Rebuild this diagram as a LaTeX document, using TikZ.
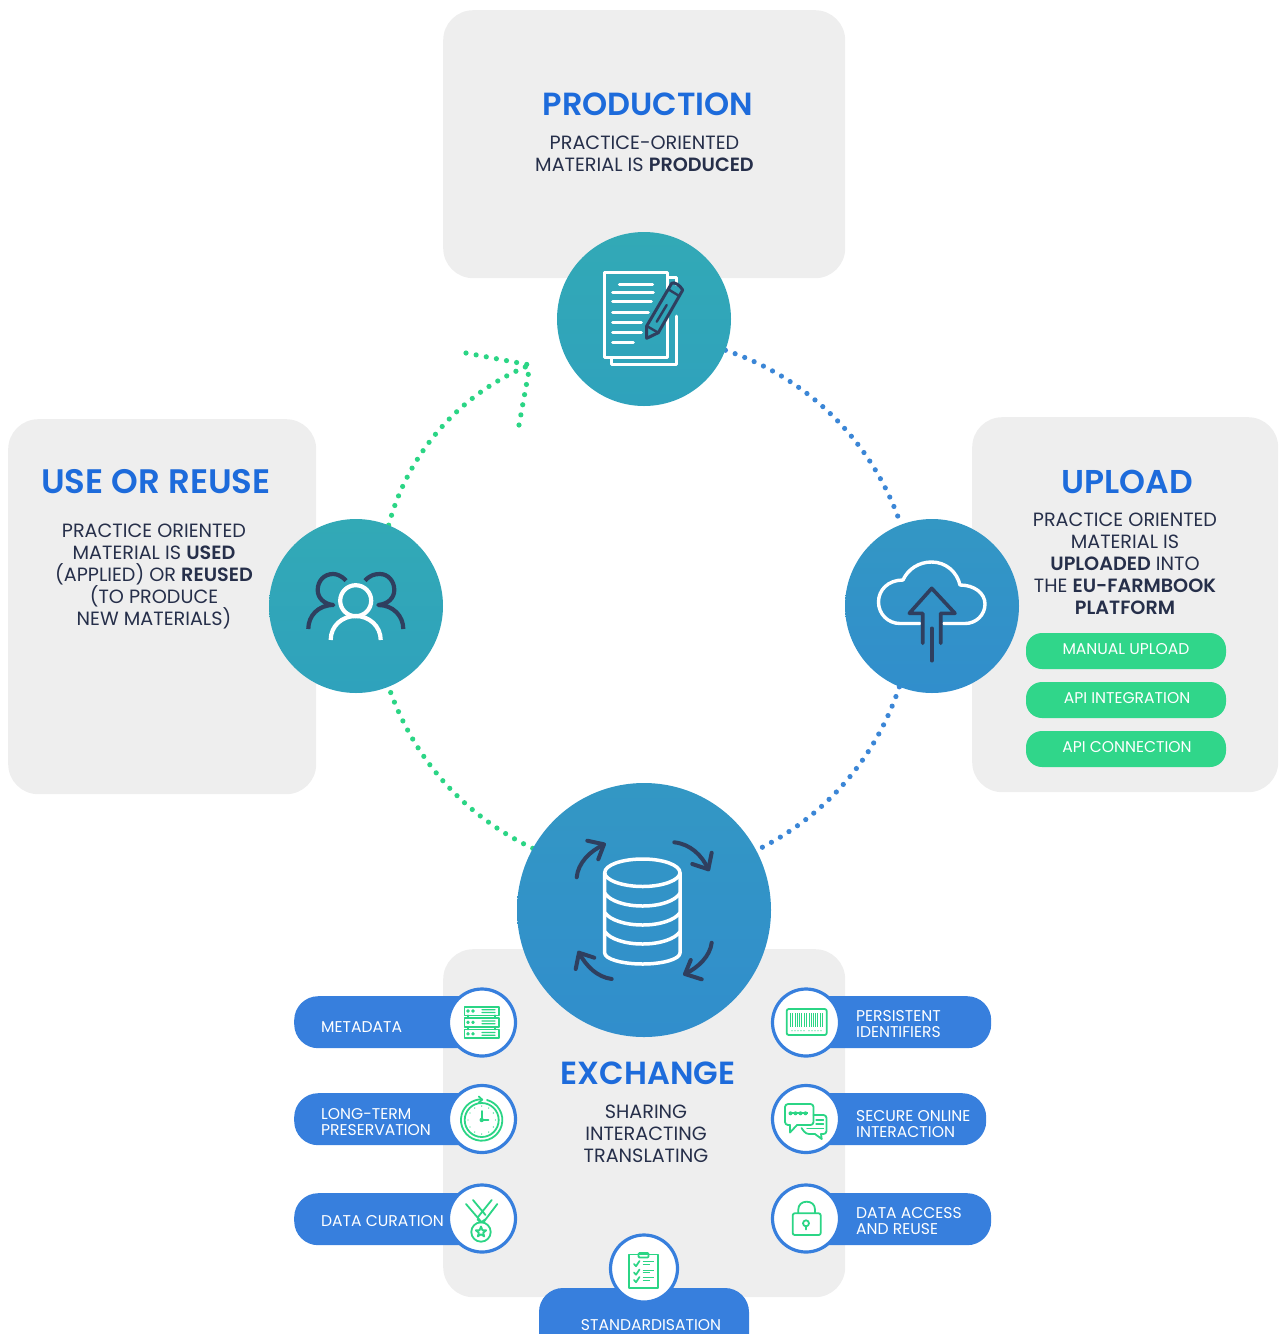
\documentclass[tikz,border=0pt]{standalone}
\usepackage{fontspec}
\setmainfont{Poppins}[BoldFont={Poppins SemiBold}]
\usetikzlibrary{backgrounds}
\definecolor{panelgrey}{HTML}{EEEEEE}
\definecolor{headblue}{HTML}{1D6BDB}
\definecolor{inkdark}{HTML}{262F4A}
\definecolor{icondark}{HTML}{2F3F5F}
\definecolor{pillgreen}{HTML}{30D68A}
\definecolor{pillblue}{HTML}{377FDD}
\definecolor{dotblue}{HTML}{3B86D6}
\definecolor{icongreen}{HTML}{2BD585}
\definecolor{tealA}{HTML}{32A9B6}
\definecolor{tealB}{HTML}{2FA2BC}
\definecolor{azureA}{HTML}{3397C4}
\definecolor{azureB}{HTML}{318ECC}
\tikzset{
  panel/.style={fill=panelgrey,rounded corners=30pt,inner sep=0pt,anchor=north west},
  hubteal/.style={circle,inner sep=0pt,minimum size=174pt,top color=tealA,bottom color=tealB},
  hubazure/.style={circle,inner sep=0pt,minimum size=174pt,top color=azureA,bottom color=azureB},
  heading/.style={text=headblue,font=\fontsize{32}{36}\selectfont\bfseries,inner sep=0pt},
  bodytext/.style={text=inkdark,font=\fontsize{19.2}{22}\selectfont,align=center,inner sep=0pt},
  greenpill/.style={fill=pillgreen,rounded corners=16pt,minimum width=200pt,minimum height=36pt,inner sep=0pt},
  greentext/.style={text=white,font=\fontsize{15.6}{16}\selectfont,inner sep=0pt},
  bluepill/.style={fill=pillblue,rounded corners=24pt,minimum height=52pt,inner sep=0pt,anchor=north west},
  pilltext/.style={text=white,font=\fontsize{15.6}{16}\selectfont,align=left,anchor=west,inner sep=0pt},
  badge/.style={circle,fill=white,draw=pillblue,line width=3.2pt,minimum size=67pt,inner sep=0pt},
  dotsgreen/.style={draw=icongreen,line width=5.2pt,line cap=round,dash pattern=on 0pt off 10.3pt},
  dotsblue/.style={draw=dotblue,line width=5.2pt,line cap=round,dash pattern=on 0pt off 10.3pt},
  iconw/.style={draw=white,line width=3pt,line cap=round,line join=round},
  icond/.style={draw=icondark,line width=3.6pt,line cap=round,line join=round},
  icong/.style={draw=icongreen,line width=1.8pt,line cap=round,line join=round},
}
\begin{document}
\begin{tikzpicture}[x=1pt,y=-1pt]
\useasboundingbox (0,0) rectangle (1278,1334);
% hubs
\node[hubteal] (prod) at (644,319) {};
\node[hubteal] (use) at (356,606) {};
\node[hubazure] (upl) at (932,606) {};
\node[hubazure,minimum size=254pt] (exch) at (644,910) {};
\coordinate (tip) at (530,365);
\coordinate (headA) at (466,353);
\coordinate (headB) at (519,425);
\begin{scope}[on background layer]
  \node[panel,minimum width=402pt,minimum height=268pt] (pprod) at (443,10) {};
  \node[panel,minimum width=308pt,minimum height=375pt] (puse) at (8,419) {};
  \node[panel,minimum width=306pt,minimum height=375pt] (pupl) at (972,417) {};
  \node[panel,minimum width=402pt,minimum height=348pt] (pexch) at (443,949) {};
  \draw[dotsblue] (prod.-21) to[bend left=26.5,looseness=.9] (upl.111);
  \draw[dotsblue] (upl.-112) to[bend left=22.7,looseness=.9] (exch.28);
  \draw[dotsgreen] (exch.151) to[bend left=22.7,looseness=.9] (use.-68);
  \draw[dotsgreen] (use.68) to[bend left=26.5,looseness=.9] (tip);
  \draw[dotsgreen] (headA) -- (tip);
  \draw[dotsgreen] (headB) -- (tip);
\end{scope}
% texts of the panels
\node[heading] (tprod) at (648,104) {PRODUCTION};
\node[bodytext] (bprod) at (644.5,154) {PRACTICE-ORIENTED\\MATERIAL IS \textbf{PRODUCED}};
\node[heading,font=\fontsize{34}{36}\selectfont\bfseries] (tuse) at (156,482) {USE OR REUSE};
\node[bodytext] (buse) at (154,576) {PRACTICE ORIENTED\\MATERIAL IS \textbf{USED}\\(APPLIED) OR \textbf{REUSED}\\(TO PRODUCE\\NEW MATERIALS)};
\node[heading,font=\fontsize{33}{36}\selectfont\bfseries] (tupl) at (1127,482) {UPLOAD};
\node[bodytext] (bupl) at (1125,564) {PRACTICE ORIENTED\\MATERIAL IS\\\textbf{UPLOADED} INTO\\THE \textbf{EU-FARMBOOK}\\\textbf{PLATFORM}};
\node[heading] (texch) at (648,1073) {EXCHANGE};
\node[bodytext] (bexch) at (646,1134) {SHARING\\INTERACTING\\TRANSLATING};
% green pills
\node[greenpill] (g1) at (1126,651) {};
\node[greenpill] (g2) at (1126,700) {};
\node[greenpill] (g3) at (1126,749) {};
\node[greentext] at (1126,649) (g1t) {MANUAL UPLOAD};
\node[greentext] at (1127,698) (g2t) {API INTEGRATION};
\node[greentext] at (1127,747) (g3t) {API CONNECTION};
% blue pills, left
\node[bluepill,minimum width=190pt] (pmeta) at (294,996) {};
\node[bluepill,minimum width=190pt] (plong) at (294,1093) {};
\node[bluepill,minimum width=190pt] (pcur) at (294,1193) {};
\node[pilltext] (tmeta) at (321,1027) {METADATA};
\node[pilltext] (tlong) at (321,1122.5) {LONG-TERM\\PRESERVATION};
\node[pilltext] (tcur) at (321,1221) {DATA CURATION};
% blue pills, right
\node[bluepill,minimum width=191pt] (ppid) at (800,996) {};
\node[bluepill,minimum width=186pt] (psec) at (800,1093) {};
\node[bluepill,minimum width=191pt] (pacc) at (800,1193) {};
\node[pilltext] (tpid) at (856,1024) {PERSISTENT\\IDENTIFIERS};
\node[pilltext] (tsec) at (856,1124) {SECURE ONLINE\\INTERACTION};
\node[pilltext] (tacc) at (856,1221.5) {DATA ACCESS\\AND REUSE};
% standardisation pill
\fill[pillblue] (539,1334) [rounded corners=24pt] -- (539,1288) -- (749,1288) [sharp corners] -- (749,1334) -- cycle;
\node[pilltext,anchor=center] (tstd) at (651,1325) {STANDARDISATION};
% badges
\node[badge] (bmeta) at (482,1022.5) {};
\node[badge] (blong) at (482,1119) {};
\node[badge] (bcur) at (482,1218.5) {};
\node[badge] (bpid) at (806,1022.5) {};
\node[badge] (bsec) at (806,1119) {};
\node[badge] (bacc) at (806,1218.5) {};
\node[badge] (bstd) at (644,1268.5) {};
% --- icon: document and pencil
\draw[iconw,line cap=butt] (604,272.7) rectangle (667.3,357.3);
\draw[iconw] (611.7,358) -- (611.7,364.3) -- (676,364.3) -- (676,316);
\draw[iconw] (668,277.3) -- (676,277.3) -- (676,285);
\draw[iconw] (619.3,284) -- (652.7,284) (612.7,292) -- (653.3,292) (612.7,301.7) -- (651.3,301.7)
  (612.7,312) -- (648.3,312) (612.7,322) -- (641.3,322) (612.7,332.3) -- (641.3,332.3) (612.7,342.7) -- (633.3,342.7);
\fill[tealB!50!tealA] (646.7,338.3) -- (646.7,326) -- (671.7,283.3) -- (682.7,290) -- (658.3,332.7) -- cycle;
\draw[icond,line width=3pt] (646.7,338.3) -- (646.7,326) -- (671.7,283.3) .. controls (674,281.5) and (680,285) .. (682.7,290) -- (658.3,332.7) -- cycle;
\draw[icond,line width=2.4pt] (668.3,289.3) -- (679.3,296) (646.7,326) -- (658.3,332.7) (666.7,305) -- (656.7,321.7);
% --- icon: cloud and arrow
\draw[iconw,line width=3.4pt] (920,623.5) -- (900,623.5) .. controls (888,623.5) and (878.5,614) .. (878.5,602) .. controls (878.5,590) and (888,580) .. (903,580) .. controls (908,569) and (919,562) .. (931.5,562) .. controls (946,562) and (957,572) .. (960,585) .. controls (974,585) and (985,593) .. (985,604) .. controls (985,615) and (976,623.5) .. (965,623.5) -- (943.5,623.5);
\draw[icond] (922.7,643.3) -- (922.7,613.3) -- (909.3,613.3) -- (931.7,588.3) -- (955,613.3) -- (940.7,613.3) -- (940.7,643.3);
\draw[icond] (931.7,628.3) -- (931.7,660.7);
% --- icon: people
\draw[icond,line cap=butt,line width=4.2pt] (346,580.7) .. controls (341,575) and (336,574) .. (333,574) .. controls (324,574) and (317.7,581) .. (317.7,590) .. controls (317.7,598) and (324,604) .. (333.3,605) .. controls (318,605) and (308.3,616) .. (308.3,629);
\draw[icond,line cap=butt,line width=4.2pt] (365,580.7) .. controls (370,575) and (375,574) .. (380,574) .. controls (388,574) and (394.3,581) .. (394.3,590) .. controls (394.3,598) and (388,604) .. (378.3,605) .. controls (393,605) and (403.3,616) .. (403.3,629);
\draw[iconw,line width=4.2pt] (355.7,600.7) circle[radius=15.5];
\draw[iconw,line width=4.2pt,line cap=butt] (330.7,640) .. controls (330.7,626) and (342,616) .. (355.7,616) .. controls (369,616) and (380.7,626) .. (380.7,640);
% --- icon: database and arrows
\draw[iconw,line width=3.5pt] (604.7,872.7) .. controls (604.7,865) and (622,859) .. (642.7,859) .. controls (663,859) and (680,865) .. (680,872.7) .. controls (680,880) and (663,886.5) .. (642.7,886.5) .. controls (622,886.5) and (604.7,880) .. (604.7,872.7);
\draw[iconw,line width=3.5pt] (604.7,872.7) -- (604.7,953) .. controls (604.7,959) and (622,964) .. (642.7,964) .. controls (663,964) and (680,959) .. (680,953) -- (680,872.7);
\draw[iconw,line width=3.5pt] (605,893.3) .. controls (610,901) and (625,906) .. (642.7,906) .. controls (660,906) and (675,901) .. (680,893.3);
\draw[iconw,line width=3.5pt] (605,912.7) .. controls (610,920) and (625,925) .. (642.7,925) .. controls (660,925) and (675,920) .. (680,912.7);
\draw[iconw,line width=3.5pt] (605,931.7) .. controls (610,939) and (625,944) .. (642.7,944) .. controls (660,944) and (675,939) .. (680,931.7);
\draw[icond,line width=4pt] (576.7,877.3) .. controls (578,863) and (590,851) .. (603.3,845);
\draw[icond,line width=4pt] (587.3,840.7) -- (604,844.3) -- (598.3,859.3);
\draw[icond,line width=4pt] (674.3,842.3) .. controls (690,844) and (702,855) .. (708.3,869.3);
\draw[icond,line width=4pt] (711.7,852.7) -- (708.3,869.3) -- (692.3,864);
\draw[icond,line width=4pt] (711.7,942.7) .. controls (710,956) and (699,967) .. (685,974);
\draw[icond,line width=4pt] (701.7,979.3) -- (685,974) -- (690.7,960);
\draw[icond,line width=4pt] (611.7,979) .. controls (597,977) and (586,966) .. (579,952.7);
\draw[icond,line width=4pt] (575.7,969) -- (579,952.7) -- (594.3,957.7);
% --- icon: server
\foreach \yy in {1006.7,1018,1029.5}{
  \draw[icong] (464.5,\yy) rectangle (499,\yy+8.7);
  \draw[icong,line width=1.2pt] (468,\yy+4.3) circle[radius=1.2] (473,\yy+4.3) circle[radius=1.2] (482,\yy+3) -- (495,\yy+3) (482,\yy+5.8) -- (495,\yy+5.8);
}
\draw[icong] (468,1015.4) -- (468,1018) (495,1015.4) -- (495,1018) (468,1026.7) -- (468,1029.5) (495,1026.7) -- (495,1029.5);
% --- icon: clock
\draw[icong] (481.7,1120) circle[radius=17];
\draw[icong] (487,1100) arc[start angle=-75,end angle=271,radius=20.7];
\draw[icong] (478.8,1096.5) -- (482.2,1099.7) -- (478.8,1102.5);
\draw[icong] (481.7,1111) -- (481.7,1120) -- (488.5,1120);
\fill[icongreen] (481.7,1120) circle[radius=2.2];
\foreach \xx/\yy in {481.7/1106,481.7/1134,468/1120,495.5/1120,474.7/1108,488.7/1108,474.7/1132,488.7/1132,470/1113,493.4/1113,470/1127,493.4/1127}
  \fill[icongreen] (\xx,\yy) circle[radius=.7];
% --- icon: medal
\draw[icong] (466,1204) -- (481,1221.5) (473,1200) -- (485.5,1215) (491.7,1200) -- (478,1217) (497.3,1204) -- (484,1221.5);
\draw[icong] (477.5,1219.5) -- (481,1222.5) -- (485,1219.5);
\draw[icong] (481,1232) circle[radius=9.7];
\draw[icong] (481,1226.5) -- (482.4,1230.1) -- (486.2,1230.3) -- (483.2,1232.7) -- (484.2,1236.4) -- (481,1234.3) -- (477.8,1236.4) -- (478.8,1232.7) -- (475.8,1230.3) -- (479.6,1230.1) -- cycle;
% --- icon: barcode
\draw[icong,rounded corners=2pt] (786.7,1009) rectangle (826.7,1035);
\foreach \xx in {790.7,792.7,795.2,797.5,799,801.7,804.4,806,809,811,813.5,815.2,817.7,820,822.7}
  \draw[icong,line width=1pt,line cap=butt] (\xx,1013) -- (\xx,1027);
\foreach \xx in {792,795,798,801,804,809,812,815,818,821}
  \fill[icongreen] (\xx,1030.8) circle[radius=.6];
% --- icon: chat
\draw[icong,rounded corners=3pt] (797,1125) -- (813.5,1125) -- (813.5,1104) -- (785,1104) -- (785,1125) -- (790,1125);
\draw[icong] (790,1125) -- (790,1132.5) -- (797,1125);
\foreach \xx in {790.5,795.5,800.5,805.5}
  \fill[icongreen] (\xx,1113.3) circle[radius=2];
\draw[icong,line width=2pt,line cap=butt] (789,1113.3) -- (808,1113.3);
\draw[icong,rounded corners=3pt] (813.5,1115) -- (826.5,1115) -- (826.5,1134) -- (821,1134);
\draw[icong,rounded corners=3pt] (815,1134) -- (806,1134) -- (801.5,1128);
\draw[icong] (815,1134) -- (821.7,1139) -- (821,1134);
\draw[icong,line width=1.1pt] (816,1120) -- (823.5,1120) (816,1124) -- (823.5,1124) (807,1128.5) -- (823.5,1128.5);
% --- icon: lock
\draw[icong,rounded corners=2pt] (792.7,1213.3) rectangle (820.7,1235);
\draw[icong] (798.3,1213) -- (798.3,1209.5) .. controls (798.3,1204.5) and (802,1201.7) .. (806.7,1201.7) .. controls (811.4,1201.7) and (815,1204.5) .. (815,1209.5) -- (815,1213);
\draw[icong] (806,1223.3) circle[radius=3];
\draw[icong] (806,1226.3) -- (806,1229.5);
% --- icon: clipboard
\draw[icong] (629.3,1254.5) rectangle (658.3,1288.3);
\draw[icong,rounded corners=1pt] (638.5,1257.5) -- (638.5,1253) -- (648.5,1253) -- (648.5,1257.5) -- cycle;
\foreach \yy in {1264,1272.5,1280}{
  \draw[icong,line width=1.7pt] (634,\yy) -- (636,\yy+2.2) -- (639.5,\yy-3);
  \draw[icong,line width=1.2pt,line cap=butt] (642.5,\yy-2.2) -- (653.5,\yy-2.2) (642.5,\yy+.3) -- (650,\yy+.3);
}
\end{tikzpicture}
\end{document}
